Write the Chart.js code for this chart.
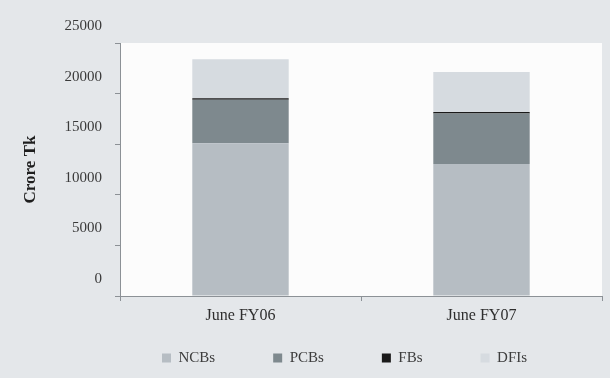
<!DOCTYPE html>
<html>
<head>
<meta charset="utf-8">
<script src="https://cdn.jsdelivr.net/npm/chart.js@4.4.1/dist/chart.umd.min.js"></script>
<style>
  html, body { margin: 0; padding: 0; background: #e4e7ea; }
</style>
</head>
<body>
<canvas id="advances" width="610" height="378"></canvas>
<script>
const periods = ['June FY06', 'June FY07']
const ncbs = [15100, 13050]
const pcbs = [4300, 4980]
const fbs = [150, 150]
const dfis = [3850, 3950]
const yTicks = [0, 5000, 10000, 15000, 20000, 25000]

const serif = '"Liberation Serif", "Times New Roman", serif'
const axisGray = '#8c9196'

// white plotting area on the grey page
const plotFill = {
    id: 'plotFill',
    beforeDraw(chart) {
        const a = chart.chartArea
        const ctx = chart.ctx
        ctx.save()
        ctx.fillStyle = '#fcfcfc'
        ctx.fillRect(a.left, a.top, a.right - a.left, a.bottom - a.top)
        ctx.restore()
    }
}

// put the key row under the x labels, starting near the first bar
const legendPlace = {
    id: 'legendPlace',
    afterLayout(chart) {
        const lg = chart.legend
        const pad = lg.options.labels.padding
        const start = (lg.left + pad + lg.right - lg.lineWidths[0]) / 2
        const dx = 162 - start
        const dy = 358 - 7.5 - (lg.top + pad)
        lg.left += dx
        lg.right += dx
        lg.top += dy
        lg.bottom = chart.height
    }
}

function makeSet(label, data, color) {
    return {
        label: label,
        data: data,
        backgroundColor: color,
        borderWidth: 0,
        barPercentage: 0.4,
        categoryPercentage: 1
    }
}

new Chart(document.getElementById('advances').getContext('2d'), {
    type: 'bar',
    data: {
        labels: periods,
        datasets: [
            makeSet('NCBs', ncbs, '#b6bdc3'),
            makeSet('PCBs', pcbs, '#7e898e'),
            makeSet('FBs', fbs, '#1a1a1a'),
            makeSet('DFIs', dfis, '#d6dbe0')
        ]
    },
    options: {
        responsive: false,
        devicePixelRatio: 1,
        animation: false,
        layout: { padding: { top: 43, right: 8, left: 0, bottom: 0 } },
        plugins: {
            tooltip: { enabled: false },
            legend: {
                position: 'bottom',
                maxHeight: 52,
                labels: {
                    boxWidth: 9,
                    boxHeight: 9,
                    padding: 58,
                    color: '#3d3d3d',
                    font: { family: serif, size: 15 }
                }
            }
        },
        scales: {
            x: {
                stacked: true,
                grid: { drawOnChartArea: false, offset: true, tickLength: 5, color: axisGray },
                border: { color: axisGray },
                ticks: { color: '#2e2e2e', padding: 5, font: { family: serif, size: 16 } },
                afterFit(s) { s.height = 30 }
            },
            y: {
                stacked: true,
                min: 0,
                max: 25000,
                afterBuildTicks(s) { s.ticks = yTicks.map(v => ({ value: v })) },
                grid: { drawOnChartArea: false, tickLength: 5, color: axisGray },
                border: { color: axisGray },
                ticks: {
                    color: '#3a3a3a',
                    padding: 13,
                    labelOffset: -17,
                    font: { family: serif, size: 15 },
                    callback: v => String(v)
                },
                title: {
                    display: true,
                    text: 'Crore Tk',
                    color: '#1e1e1e',
                    padding: { top: 20 },
                    font: { family: serif, size: 17, weight: 'bold' }
                },
                afterFit(s) { s.width = 120 }
            }
        }
    },
    plugins: [plotFill, legendPlace]
})
</script>
</body>
</html>
